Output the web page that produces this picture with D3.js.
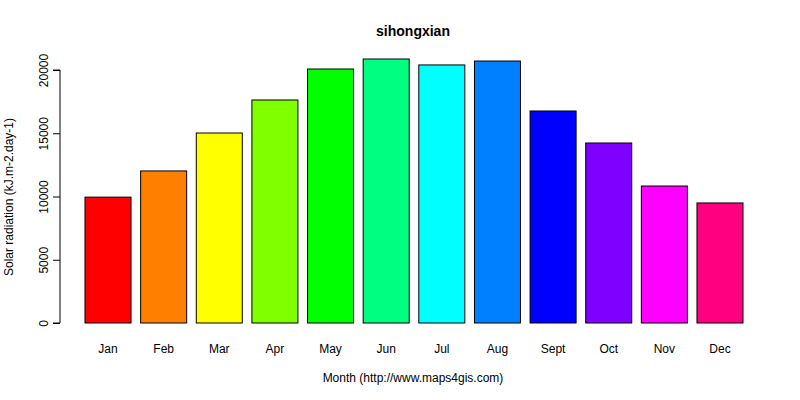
<!DOCTYPE html>
<html><head><meta charset="utf-8">
<script src="https://cdn.jsdelivr.net/npm/d3@7"></script>
<style>body{margin:0;background:#fff}text{font-family:"Liberation Sans",Arial,sans-serif}</style>
</head><body><svg id="c" width="800" height="400"></svg>
<script>
const months = ["Jan","Feb","Mar","Apr","May","Jun","Jul","Aug","Sept","Oct","Nov","Dec"];
const values = [9950,12020,15020,17630,20080,20870,20400,20710,16760,14230,10830,9490];
const colors = ["#FF0000","#FF8000","#FFFF00","#80FF00","#00FF00","#00FF80","#00FFFF","#0080FF","#0000FF","#8000FF","#FF00FF","#FF0080"];
const yTicks = [0,5000,10000,15000,20000];

const svg = d3.select("#c");
const x = d3.scaleBand().domain(months).range([80.2,747.8]).paddingInner(0.1727).paddingOuter(0.0863);
const y = d3.scaleLinear().domain([0,20000]).range([323,70]);

svg.selectAll("rect").data(values).join("rect")
  .attr("x",(d,i)=>x(months[i])).attr("width",x.bandwidth())
  .attr("y",d=>y(d)).attr("height",d=>y(0)-y(d))
  .attr("fill",(d,i)=>colors[i]).attr("stroke","#000").attr("stroke-width",1);

const ya = svg.append("g").attr("transform","translate(60,0)")
  .call(d3.axisLeft(y).tickValues(yTicks).tickSize(7).tickFormat(d3.format("d")));
ya.select(".domain").attr("d",`M-7,${y(0)}H0V${y(20000)}H-7`).attr("stroke","#000");
ya.selectAll(".tick line").attr("stroke","#000");
ya.selectAll(".tick text").attr("transform","rotate(-90)").attr("x",0).attr("y",-12)
  .attr("dy","0").attr("text-anchor","middle").attr("font-size",12).attr("fill","#000");

svg.selectAll("text.m").data(months).join("text").attr("class","m")
  .attr("x",d=>x(d)+x.bandwidth()/2).attr("y",353).attr("text-anchor","middle")
  .attr("font-size",12).text(d=>d);

svg.append("text").attr("x",413).attr("y",36).attr("text-anchor","middle")
  .attr("font-size",14).attr("font-weight","bold").text("sihongxian");
svg.append("text").attr("x",413).attr("y",382).attr("text-anchor","middle")
  .attr("font-size",12).text("Month (http://www.maps4gis.com)");
svg.append("text").attr("transform","translate(13,197) rotate(-90)").attr("text-anchor","middle")
  .attr("font-size",12).text("Solar radiation (kJ.m-2.day-1)");
</script></body></html>
